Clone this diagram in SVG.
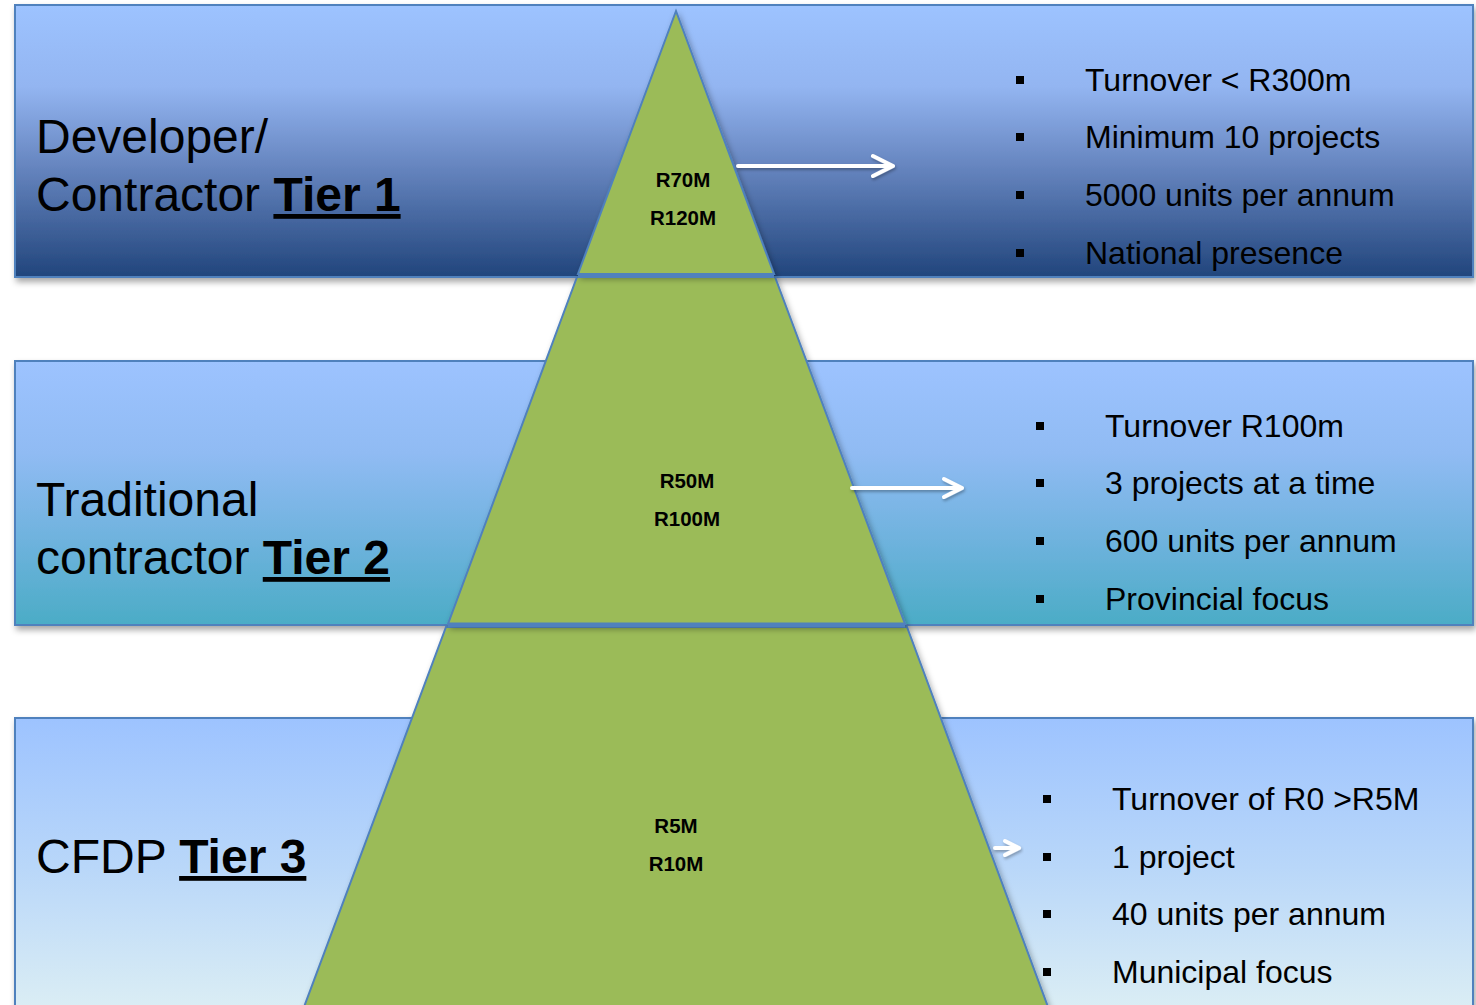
<svg xmlns="http://www.w3.org/2000/svg" width="1476" height="1005" viewBox="0 0 1476 1005">
<defs>
<linearGradient id="g1" x1="0" y1="0" x2="0" y2="1">
<stop offset="0" stop-color="#9DC3FF"/><stop offset="0.3" stop-color="#93B5F1"/><stop offset="0.6" stop-color="#6584BE"/><stop offset="1" stop-color="#21457C"/>
</linearGradient>
<linearGradient id="g2" x1="0" y1="0" x2="0" y2="1">
<stop offset="0" stop-color="#9DC3FF"/><stop offset="0.35" stop-color="#90BBF3"/><stop offset="0.7" stop-color="#6CB2DC"/><stop offset="1" stop-color="#4BACC6"/>
</linearGradient>
<linearGradient id="g3" x1="0" y1="0" x2="0" y2="1">
<stop offset="0" stop-color="#9DC3FF"/><stop offset="0.5" stop-color="#B9D7F9"/><stop offset="1" stop-color="#DDEFF4"/>
</linearGradient>
<filter id="sh" x="-5%" y="-10%" width="110%" height="130%">
<feDropShadow dx="2" dy="4" stdDeviation="3" flood-color="#000" flood-opacity="0.35"/>
</filter>
<filter id="ash" x="-20%" y="-50%" width="140%" height="200%">
<feDropShadow dx="1" dy="2" stdDeviation="1.5" flood-color="#000" flood-opacity="0.3"/>
</filter>
<style>
.band{stroke:#4F81BD;stroke-width:2;filter:url(#sh)}
.seg{fill:#9BBB59;stroke:#4F81BD;stroke-width:2;filter:url(#sh)}
.bar{stroke:#4F81BD;stroke-width:5}
.title{font-family:"Liberation Sans",Arial,sans-serif;font-size:48px;fill:#000}
.b{font-weight:bold;text-decoration:underline}
.lbl{font-family:"Liberation Sans",Arial,sans-serif;font-size:20.5px;font-weight:bold;fill:#000;text-anchor:middle}
.item{font-family:"Liberation Sans",Arial,sans-serif;font-size:32px;fill:#000}
.arr{fill:none;stroke:#FFFFFF;stroke-width:4;stroke-linecap:round;stroke-linejoin:round;filter:url(#ash)}
</style>
</defs>
<rect width="1476" height="1005" fill="#FFFFFF"/>

<g id="band-tier1">
<rect class="band" x="15" y="5" width="1458" height="272" fill="url(#g1)"/>
<text class="title" x="36" y="153">Developer/</text>
<text class="title" x="36" y="211">Contractor <tspan class="b">Tier 1</tspan></text>
<g class="item">
<rect x="1016" y="76" width="8" height="8" fill="#000"/><text x="1085" y="91">Turnover &lt; R300m</text>
<rect x="1016" y="133" width="8" height="8" fill="#000"/><text x="1085" y="148">Minimum 10 projects</text>
<rect x="1016" y="191" width="8" height="8" fill="#000"/><text x="1085" y="206">5000 units per annum</text>
<rect x="1016" y="249" width="8" height="8" fill="#000"/><text x="1085" y="264">National presence</text>
</g>
</g>

<g id="band-tier2">
<rect class="band" x="15" y="361" width="1458" height="264" fill="url(#g2)"/>
<text class="title" x="36" y="516">Traditional</text>
<text class="title" x="36" y="574">contractor <tspan class="b">Tier 2</tspan></text>
<g class="item">
<rect x="1036" y="422" width="8" height="8" fill="#000"/><text x="1105" y="437">Turnover R100m</text>
<rect x="1036" y="479" width="8" height="8" fill="#000"/><text x="1105" y="494">3 projects at a time</text>
<rect x="1036" y="537" width="8" height="8" fill="#000"/><text x="1105" y="552">600 units per annum</text>
<rect x="1036" y="595" width="8" height="8" fill="#000"/><text x="1105" y="610">Provincial focus</text>
</g>
</g>

<g id="band-tier3">
<rect class="band" x="15" y="718" width="1458" height="300" fill="url(#g3)"/>
<text class="title" x="36" y="873">CFDP <tspan class="b">Tier 3</tspan></text>
<g class="item">
<rect x="1043" y="795" width="8" height="8" fill="#000"/><text x="1112" y="810">Turnover of R0 &gt;R5M</text>
<rect x="1043" y="853" width="8" height="8" fill="#000"/><text x="1112" y="868">1 project</text>
<rect x="1043" y="910" width="8" height="8" fill="#000"/><text x="1112" y="925">40 units per annum</text>
<rect x="1043" y="968" width="8" height="8" fill="#000"/><text x="1112" y="983">Municipal focus</text>
</g>
</g>

<g id="pyramid-bottom">
<polygon class="seg" points="446,627 907,627 1051,1015 301,1015"/>
<text class="lbl" x="676" y="833">R5M</text>
<text class="lbl" x="676" y="871">R10M</text>
</g>
<g id="pyramid-middle">
<polygon class="seg" points="577,277 775,277 905,624 448,624"/>
<line class="bar" x1="448" y1="625" x2="905" y2="625"/>
<text class="lbl" x="687" y="488">R50M</text>
<text class="lbl" x="687" y="526">R100M</text>
</g>
<g id="pyramid-top">
<polygon class="seg" points="676,11 774,274 578,274"/>
<line class="bar" x1="578" y1="275.5" x2="774" y2="275.5"/>
<text class="lbl" x="683" y="187">R70M</text>
<text class="lbl" x="683" y="225">R120M</text>
</g>

<g id="connectors">
<path class="arr" d="M738,166 H893 M873,156 L893,166 L873,176"/>
<path class="arr" d="M852,488 H962 M944,479 L962,488 L944,497"/>
<path class="arr" d="M995,848 H1019 M1005,841 L1019,848 L1005,855"/>
</g>
</svg>
